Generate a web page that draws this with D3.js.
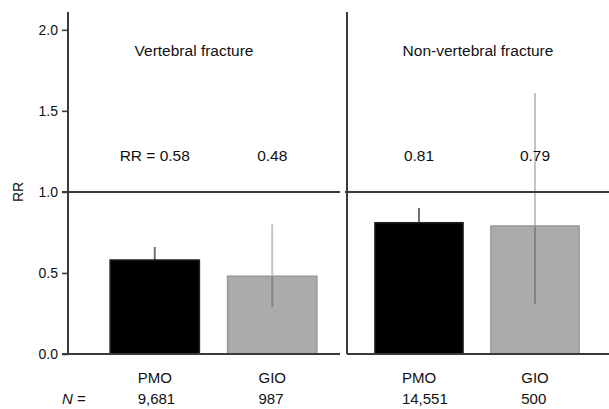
<!DOCTYPE html>
<html>
  <head>
    <meta charset="utf-8">
    <title>RR by fracture type</title>
    <script src="https://cdn.jsdelivr.net/npm/d3@7"></script>
    <style>
      body { margin: 0; background: #fff; }
      svg text { font-family: "Liberation Sans", Arial, sans-serif; fill: #111; }
    </style>
  </head>
  <body>
    <div id="chart"></div>
    <script>
      // values
      var panels = ["Vertebral fracture", "Non-vertebral fracture"];
      var groups = ["PMO", "GIO"];
      var vertebralRR = [0.58, 0.48];
      var vertebralLow = [0.51, 0.29];
      var vertebralHigh = [0.66, 0.80];
      var nonVertebralRR = [0.81, 0.79];
      var nonVertebralLow = [0.73, 0.31];
      var nonVertebralHigh = [0.90, 1.61];
      var rrLabels = [["RR = 0.58", "0.48"], ["0.81", "0.79"]];
      var nLabels = [["9,681", "987"], ["14,551", "500"]];
      var yTicks = [0, 0.5, 1.0, 1.5, 2.0];

      var width = 609, height = 409;
      var axisColor = "#3a3a3a";

      var svg = d3.select("#chart").append("svg")
          .attr("width", width)
          .attr("height", height);

      var y = d3.scaleLinear()
          .domain([0, 2.11])
          .range([354, 12]);

      // each panel: where its frame starts/ends and where bars go
      var panelBox = [
        {left: 68, right: 340, bars: [96, 331], title: 194},
        {left: 347, right: 609, bars: [361, 593], title: 478}
      ];

      var data = [
        {rr: vertebralRR, lo: vertebralLow, hi: vertebralHigh},
        {rr: nonVertebralRR, lo: nonVertebralLow, hi: nonVertebralHigh}
      ];

      // y axis (left panel only)
      var yAxis = d3.axisLeft(y)
          .tickValues(yTicks)
          .tickSize(6)
          .tickPadding(4)
          .tickFormat(d3.format(".1f"));

      var gy = svg.append("g")
          .attr("transform", "translate(" + panelBox[0].left + ",0)")
          .call(yAxis);
      gy.select(".domain").remove();
      gy.selectAll(".tick line").attr("stroke", axisColor).attr("stroke-width", 1.6);
      gy.selectAll(".tick text").style("font-size", "14px").attr("fill", "#111");

      svg.append("text")
          .attr("transform", "translate(23," + y(1) + ") rotate(-90)")
          .attr("text-anchor", "middle")
          .style("font-size", "14px")
          .text("RR");

      panels.forEach(function(title, p) {
        var box = panelBox[p];
        var d = data[p];
        var g = svg.append("g");

        var x = d3.scaleBand()
            .domain(groups)
            .range(box.bars)
            .paddingInner(0.24)
            .paddingOuter(0.12);

        // error lines go behind the bars
        g.selectAll(".err")
            .data(groups)
            .enter().append("line")
            .attr("class", "err")
            .attr("x1", function(c) { return x(c) + x.bandwidth() / 2; })
            .attr("x2", function(c) { return x(c) + x.bandwidth() / 2; })
            .attr("y1", function(c, i) { return y(d.lo[i]); })
            .attr("y2", function(c, i) { return y(d.hi[i]); })
            .attr("stroke", function(c, i) { return i === 0 ? "#707070" : "#c4c4c4"; })
            .attr("stroke-width", 2);

        g.selectAll(".bar")
            .data(groups)
            .enter().append("rect")
            .attr("class", "bar")
            .attr("x", function(c) { return x(c); })
            .attr("width", x.bandwidth())
            .attr("y", function(c, i) { return y(d.rr[i]); })
            .attr("height", function(c, i) { return y(0) - y(d.rr[i]); })
            .attr("fill", "#000")
            .attr("fill-opacity", function(c, i) { return i === 0 ? 1 : 0.33; })
            .attr("stroke", function(c, i) { return i === 0 ? "#222" : "#999"; })
            .attr("stroke-width", 1.5);

        // frame: vertical axis, baseline and RR = 1 reference
        g.append("line")
            .attr("x1", box.left).attr("x2", box.left)
            .attr("y1", y.range()[1]).attr("y2", y(0))
            .attr("stroke", axisColor).attr("stroke-width", 2);
        g.append("line")
            .attr("x1", p === 0 ? box.left - 6 : box.left).attr("x2", box.right)
            .attr("y1", y(0)).attr("y2", y(0))
            .attr("stroke", axisColor).attr("stroke-width", 2);
        g.append("line")
            .attr("x1", p === 0 ? box.left - 6 : box.left - 2).attr("x2", box.right)
            .attr("y1", y(1)).attr("y2", y(1))
            .attr("stroke", axisColor).attr("stroke-width", 2);

        g.append("text")
            .attr("x", box.title)
            .attr("y", 56)
            .attr("text-anchor", "middle")
            .style("font-size", "15.5px")
            .text(title);

        g.selectAll(".rr")
            .data(groups)
            .enter().append("text")
            .attr("class", "rr")
            .attr("x", function(c) { return x(c) + x.bandwidth() / 2; })
            .attr("y", 161)
            .attr("text-anchor", "middle")
            .style("font-size", "15.5px")
            .text(function(c, i) { return rrLabels[p][i]; });

        groups.forEach(function(c, i) {
          var cx = x(c) + x.bandwidth() / 2;
          var cat = g.append("text")
              .attr("y", 383)
              .style("font-size", "15px")
              .text(c);
          var left = cx - cat.node().getComputedTextLength() / 2;
          cat.attr("x", left);
          g.append("text")
              .attr("x", left)
              .attr("y", 404)
              .style("font-size", "15px")
              .text(nLabels[p][i]);
        });
      });

      var nText = svg.append("text")
          .attr("x", 62)
          .attr("y", 404)
          .style("font-size", "15px");
      nText.append("tspan").style("font-style", "italic").text("N");
      nText.append("tspan").text(" =");
    </script>
  </body>
</html>
